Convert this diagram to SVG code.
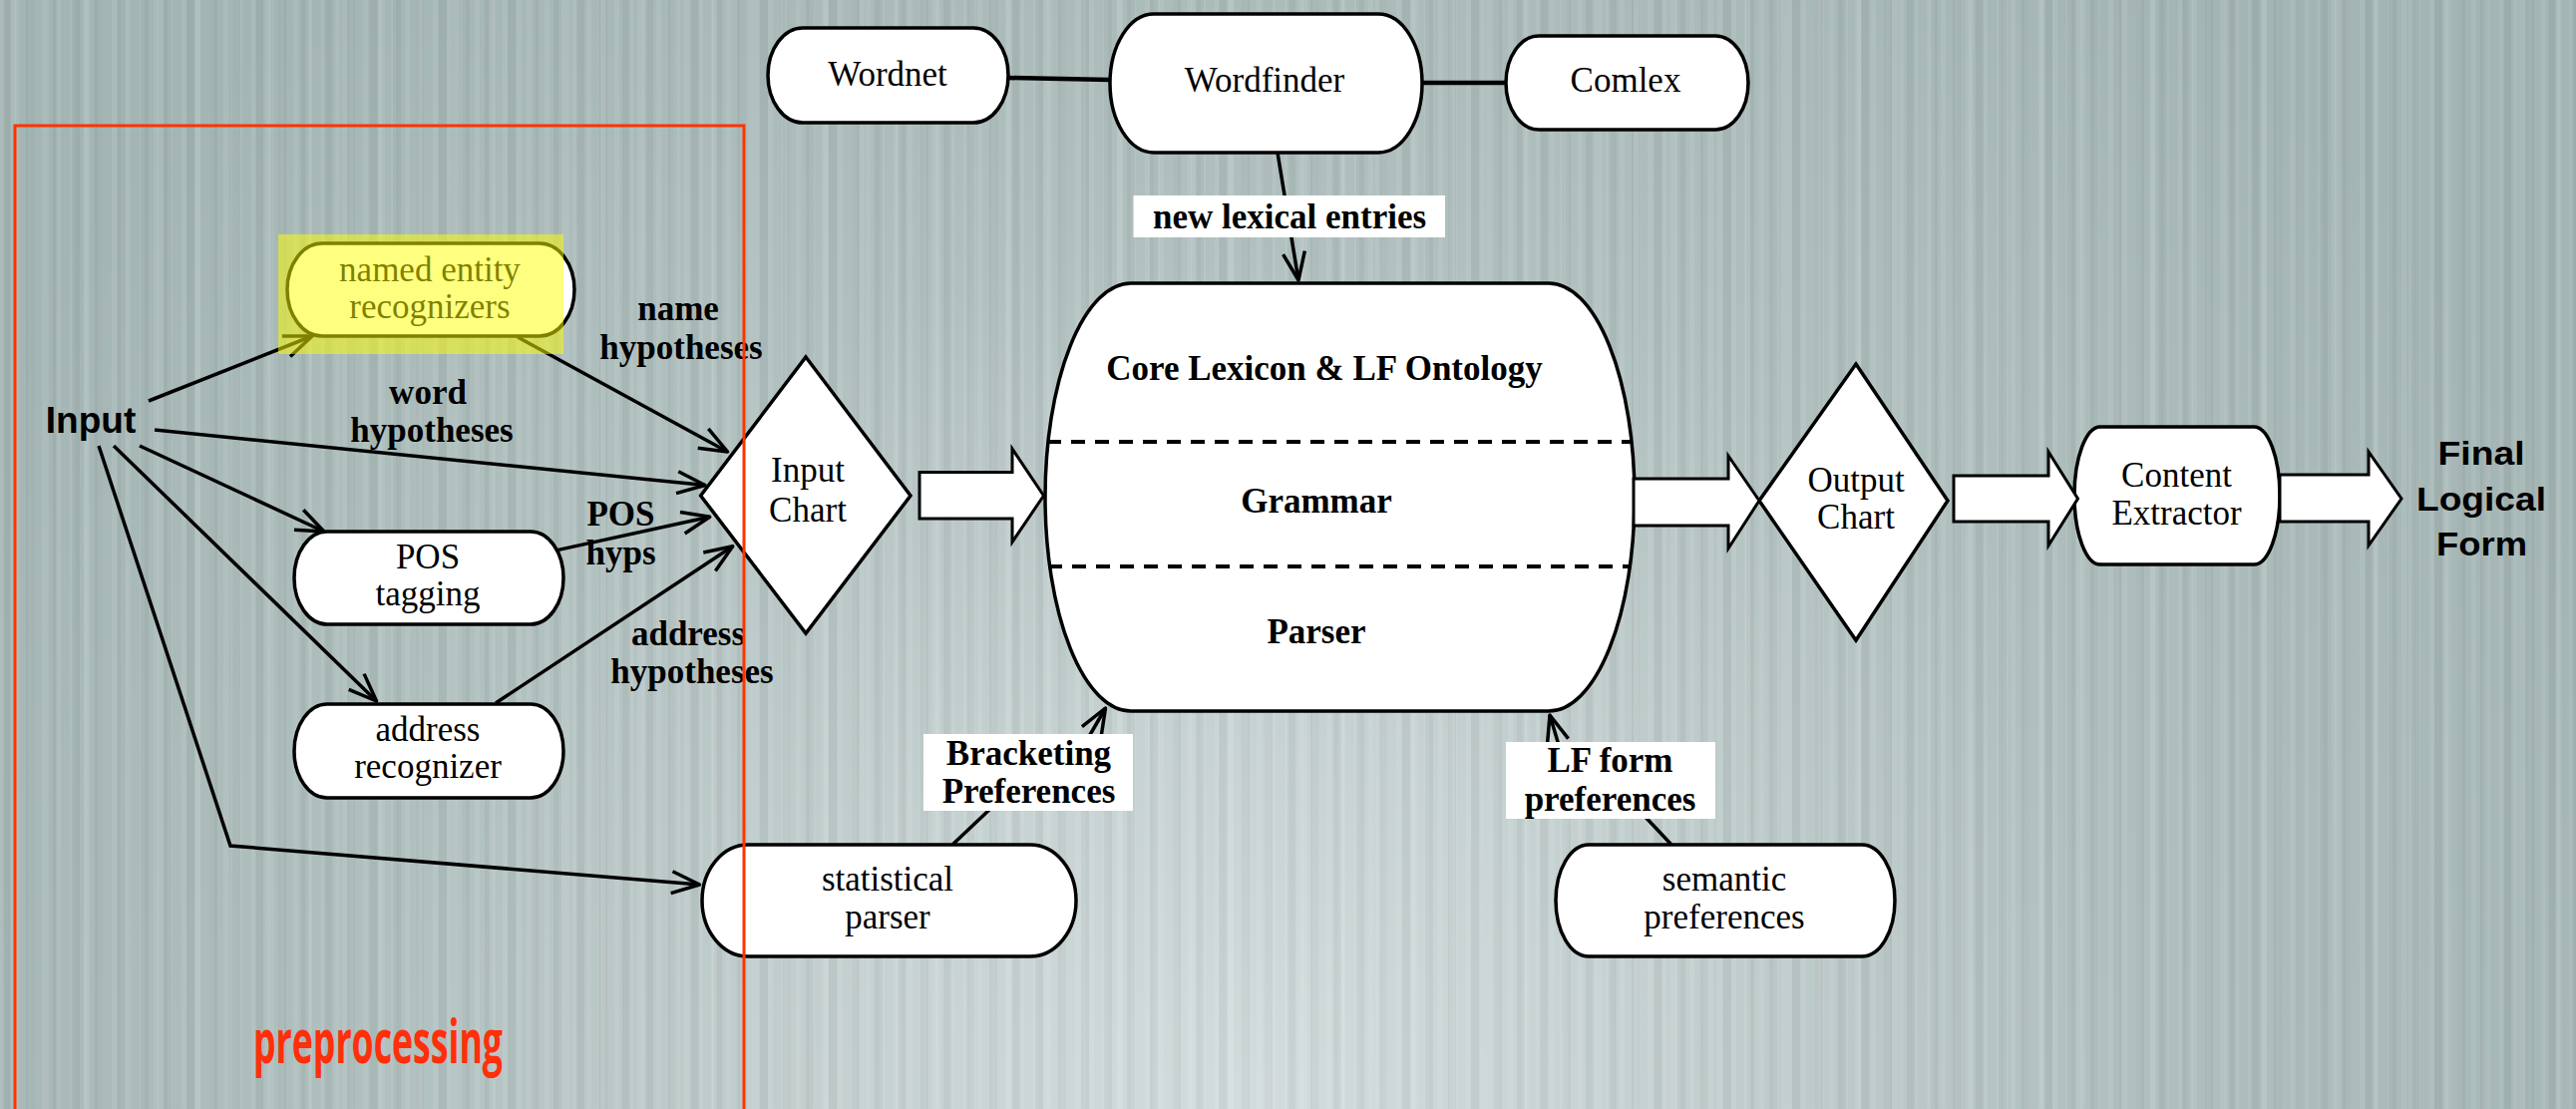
<svg xmlns="http://www.w3.org/2000/svg" width="2583" height="1112" viewBox="0 0 2583 1112">
  <defs>
    <radialGradient id="bgGrad" gradientUnits="userSpaceOnUse" cx="1250" cy="1100" r="1450">
      <stop offset="0" stop-color="#d3dcdd"/>
      <stop offset="0.25" stop-color="#c7d2d2"/>
      <stop offset="0.6" stop-color="#b0c0bf"/>
      <stop offset="1" stop-color="#a3b5b4"/>
    </radialGradient>
    <pattern id="stripeA" patternUnits="userSpaceOnUse" width="14" height="20">
      <rect x="0" y="0" width="5" height="20" fill="#ffffff" opacity="0.08"/>
    </pattern>
    <pattern id="stripeB" patternUnits="userSpaceOnUse" width="23" height="20">
      <rect x="3" y="0" width="8" height="20" fill="#000000" opacity="0.045"/>
    </pattern>
    <pattern id="stripeC" patternUnits="userSpaceOnUse" width="37" height="20">
      <rect x="10" y="0" width="6" height="20" fill="#ffffff" opacity="0.07"/>
    </pattern>
    <marker id="arr" markerUnits="userSpaceOnUse" markerWidth="34" markerHeight="30" viewBox="-32 -15 34 30" refX="0" refY="0" orient="auto" overflow="visible">
      <path d="M-28,-11 L0,0 L-28,11" fill="none" stroke="#000" stroke-width="3.5" stroke-linejoin="round"/>
    </marker>
    <style>
      .n { fill: #ffffff; stroke: #000000; stroke-width: 3.5; }
      .blk { fill: #ffffff; stroke: #000000; stroke-width: 3; stroke-linejoin: miter; }
      .c { fill: none; stroke: #000000; stroke-width: 3.5; }
      .cm { fill: none; stroke: #000000; stroke-width: 3.5; marker-end: url(#arr); }
      .thick { fill: none; stroke: #000000; stroke-width: 4.5; }
      .dash { fill: none; stroke: #000000; stroke-width: 4; stroke-dasharray: 14 10; }
      .t { font-family: 'Liberation Serif', 'Times New Roman', serif; font-size: 35px; text-anchor: middle; fill: #000000; }
      .b { font-weight: bold; }
      .s { font-family: 'Liberation Sans', Arial, sans-serif; font-weight: bold; fill: #000000; text-anchor: middle; }
      .lbl { fill: #ffffff; stroke: none; }
    </style>
  </defs>

  <!-- background -->
  <rect x="0" y="0" width="2583" height="1112" fill="url(#bgGrad)"/>
  <rect x="0" y="0" width="2583" height="1112" fill="url(#stripeA)"/>
  <rect x="0" y="0" width="2583" height="1112" fill="url(#stripeB)"/>
  <rect x="0" y="0" width="2583" height="1112" fill="url(#stripeC)"/>

  <!-- connectors -->
  <g id="connectors">
    <line class="thick" x1="1011" y1="78" x2="1113" y2="80"/>
    <line class="thick" x1="1426" y1="83" x2="1510" y2="83"/>
    <line class="cm" x1="1281" y1="153" x2="1302" y2="281"/>

    <line class="cm" x1="149" y1="402" x2="313" y2="337"/>
    <line class="cm" x1="155" y1="431" x2="707" y2="486.5"/>
    <line class="cm" x1="140" y1="447" x2="325" y2="533"/>
    <line class="cm" x1="114" y1="447" x2="377.5" y2="703"/>
    <polyline class="cm" points="99,447 231,848 701.5,887"/>

    <line class="cm" x1="519" y1="338" x2="729.6" y2="453"/>
    <line class="cm" x1="558.7" y1="551.6" x2="711.7" y2="518.3"/>
    <line class="cm" x1="497" y1="705" x2="734.7" y2="547.8"/>

    <line class="c" x1="955" y1="847" x2="1031" y2="775"/>
    <line class="cm" x1="1083" y1="754" x2="1108.5" y2="710"/>
    <line class="c" x1="1676" y1="847" x2="1615" y2="782"/>
    <line class="cm" x1="1568" y1="764" x2="1554" y2="717"/>
  </g>

  <!-- lexicon sources -->
  <g id="wordnet">
    <rect class="n" x="770" y="28" width="241" height="95" rx="35" ry="47.5"/>
    <text class="t" x="890" y="86">Wordnet</text>
  </g>
  <g id="wordfinder">
    <rect class="n" x="1113" y="14" width="313" height="139" rx="44" ry="69.5"/>
    <text class="t" x="1268" y="92">Wordfinder</text>
  </g>
  <g id="comlex">
    <rect class="n" x="1510" y="36" width="243" height="94" rx="33" ry="47"/>
    <text class="t" x="1630" y="92">Comlex</text>
  </g>

  <!-- preprocessing modules -->
  <g id="input">
    <text class="s" x="91" y="434" font-size="37">Input</text>
  </g>
  <g id="named-entity">
    <rect class="n" x="288" y="244" width="288" height="93" rx="35" ry="46.5"/>
    <text class="t" x="431" y="282">named entity</text>
    <text class="t" x="431" y="318.5">recognizers</text>
  </g>
  <g id="pos-tagging">
    <rect class="n" x="295" y="533" width="270" height="93" rx="33" ry="46.5"/>
    <text class="t" x="429" y="570">POS</text>
    <text class="t" x="429" y="607">tagging</text>
  </g>
  <g id="address-recognizer">
    <rect class="n" x="295" y="706" width="270" height="94" rx="33" ry="47"/>
    <text class="t" x="429" y="743">address</text>
    <text class="t" x="429" y="780">recognizer</text>
  </g>
  <g id="statistical-parser">
    <rect class="n" x="704" y="847" width="375" height="112" rx="46" ry="56"/>
    <text class="t" x="890" y="893">statistical</text>
    <text class="t" x="890" y="931">parser</text>
  </g>
  <g id="semantic-preferences">
    <rect class="n" x="1560" y="847" width="340" height="112" rx="33" ry="56"/>
    <text class="t" x="1729" y="893">semantic</text>
    <text class="t" x="1729" y="931">preferences</text>
  </g>

  <!-- charts -->
  <g id="input-chart">
    <polygon class="n" points="808,358 913,497 808,635 702.6,497"/>
    <text class="t" x="810" y="483">Input</text>
    <text class="t" x="810" y="522.5">Chart</text>
  </g>

  <!-- core parser -->
  <g id="core">
    <rect class="n" x="1048" y="284" width="591" height="429" rx="86" ry="214.5"/>
    <line class="dash" x1="1050" y1="443" x2="1637" y2="443"/>
    <line class="dash" x1="1051" y1="568" x2="1636" y2="568"/>
    <text class="t b" x="1328" y="380.5">Core Lexicon &amp; LF Ontology</text>
    <text class="t b" x="1320" y="513.5">Grammar</text>
    <text class="t b" x="1320" y="645">Parser</text>
  </g>

  <g id="output-chart">
    <polygon class="n" points="1861,365 1953,502 1861,642 1764,502"/>
    <text class="t" x="1861" y="492.5">Output</text>
    <text class="t" x="1861" y="530">Chart</text>
  </g>

  <g id="content-extractor">
    <rect class="n" x="2080" y="428" width="206" height="138" rx="26" ry="69"/>
    <text class="t" x="2182.5" y="487.5">Content</text>
    <text class="t" x="2182.5" y="526">Extractor</text>
  </g>

  <g id="final-logical-form">
    <text class="s" x="2488" y="466" font-size="33" textLength="87" lengthAdjust="spacingAndGlyphs">Final</text>
    <text class="s" x="2488" y="511.5" font-size="33" textLength="130" lengthAdjust="spacingAndGlyphs">Logical</text>
    <text class="s" x="2488.5" y="556.5" font-size="33" textLength="91" lengthAdjust="spacingAndGlyphs">Form</text>
  </g>

  <!-- block arrows along the main pipeline -->
  <g id="flow-arrows">
    <polygon class="blk" points="922,473.5 1015,473.5 1015,450 1046.5,497 1015,543.5 1015,520 922,520"/>
    <polygon class="blk" points="1638,480 1733,480 1733,457 1764,502 1733,550 1733,527 1638,527"/>
    <polygon class="blk" points="1959,477 2054,477 2054,453 2083.5,500 2054,547 2054,523 1959,523"/>
    <polygon class="blk" points="2286,476 2375,476 2375,453 2408,500 2375,547 2375,523 2286,523"/>
  </g>

  <!-- connector labels -->
  <g id="labels">
    <rect class="lbl" x="1136.5" y="196" width="312.5" height="42"/>
    <text class="t b" x="1293" y="229">new lexical entries</text>

    <rect class="lbl" x="926" y="736" width="210" height="77"/>
    <text class="t b" x="1031.5" y="767">Bracketing</text>
    <text class="t b" x="1031.5" y="805">Preferences</text>

    <rect class="lbl" x="1510" y="744" width="210" height="77"/>
    <text class="t b" x="1614.5" y="774">LF form</text>
    <text class="t b" x="1614.5" y="812.5">preferences</text>

    <text class="t b" x="680" y="321">name</text>
    <text class="t b" x="683" y="360">hypotheses</text>
    <text class="t b" x="429" y="405">word</text>
    <text class="t b" x="433" y="443">hypotheses</text>
    <text class="t b" x="622.5" y="527">POS</text>
    <text class="t b" x="622.5" y="565.5">hyps</text>
    <text class="t b" x="690" y="647">address</text>
    <text class="t b" x="694" y="685">hypotheses</text>
  </g>

  <!-- highlight over the named entity recognizers -->
  <rect x="279" y="235" width="286" height="120" fill="#ffff00" opacity="0.5"/>

  <!-- preprocessing region -->
  <g id="preprocessing">
    <rect x="15" y="126" width="731" height="1010" fill="none" stroke="#ff3300" stroke-width="3"/>
    <text x="254" y="1066" font-family="'Open Sans', 'Liberation Sans', sans-serif" font-weight="bold" font-size="60" fill="#ff2f0a" textLength="250" lengthAdjust="spacingAndGlyphs">preprocessing</text>
  </g>
</svg>
